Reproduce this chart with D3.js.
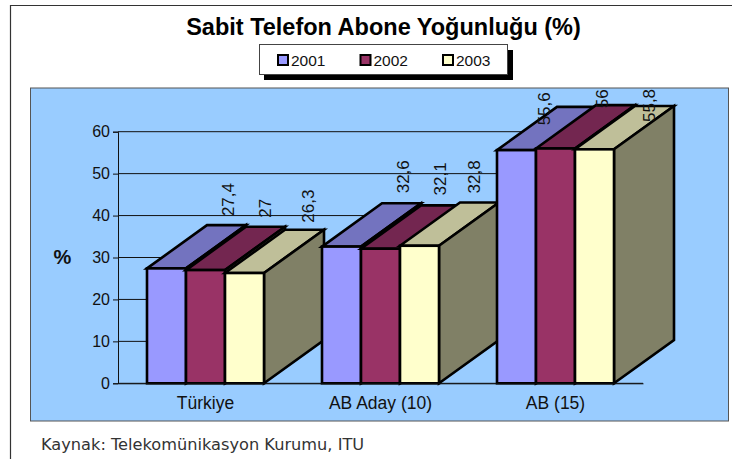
<!DOCTYPE html>
<html>
<head>
<meta charset="utf-8">
<script src="https://cdn.jsdelivr.net/npm/d3@7"></script>
<style>
    html, body { margin: 0; padding: 0; background: #fff; }
    svg { display: block; }
    text { font-family: "Liberation Sans", Arial, sans-serif; fill: #111; }
</style>
</head>
<body>
<div id="chart"></div>
<script>
// values
const categories = ["Türkiye", "AB Aday (10)", "AB (15)"];
const years = ["2001", "2002", "2003"];
const values2001 = [27.4, 32.6, 55.6];
const values2002 = [27, 32.1, 56];
const values2003 = [26.3, 32.8, 55.8];
const yTicks = [0, 10, 20, 30, 40, 50, 60];

// hand placed data labels in the original, offset from each bar (one row per year)
const labelNudgeX = [[61.5, 61.5, 27.5], [59.5, 59.5, 46.5], [63.5, 54.5, 54.5]];
const labelNudgeY = [[9, 10, -18.5], [9, 10, -3], [7, 9, -16]];

const colors = ["#9999FF", "#993366", "#FFFFCC"];
const topColors = ["#7373BF", "#732650", "#BFBF99"];
const sideColor = "#808066";

const width = 732, height = 459;
const depthX = 60, depthY = 43.3;

const svg = d3.select("#chart").append("svg")
    .attr("width", width)
    .attr("height", height);

// page frame
svg.append("path")
    .attr("d", "M10.5,459V5.5H732")
    .attr("fill", "none")
    .attr("stroke", "#333")
    .attr("stroke-width", 1.2);

svg.append("text")
    .attr("x", 383.5)
    .attr("y", 35)
    .attr("text-anchor", "middle")
    .style("font-size", "23.5px")
    .style("font-weight", "bold")
    .style("fill", "#000")
    .text("Sabit Telefon Abone Yoğunluğu (%)");

// legend
svg.append("rect").attr("x", 264).attr("y", 50).attr("width", 249).attr("height", 30).attr("fill", "#000");
svg.append("rect").attr("x", 259.5).attr("y", 44.5).attr("width", 248).attr("height", 30)
    .attr("fill", "#fff").attr("stroke", "#444").attr("stroke-width", 1);

const legendX = d3.scalePoint().domain(years).range([277, 442]);
const legendItem = svg.selectAll(".legend-item")
    .data(years)
    .enter().append("g")
    .attr("class", "legend-item")
    .attr("transform", d => `translate(${legendX(d)},54)`);
legendItem.append("rect")
    .attr("x", 1).attr("y", 1).attr("width", 10).attr("height", 10)
    .attr("fill", (d, i) => colors[i])
    .attr("stroke", "#000").attr("stroke-width", 2);
legendItem.append("text")
    .attr("x", 14).attr("y", 11.5)
    .style("font-size", "15.5px")
    .text(d => d);

// plot panel
svg.append("rect")
    .attr("x", 30.5).attr("y", 88).attr("width", 698).attr("height", 333)
    .attr("fill", "#99CCFF")
    .attr("stroke", "#555")
    .attr("stroke-width", 1);

const x0 = d3.scaleBand()
    .domain(categories)
    .range([118, 643])
    .paddingInner(0.3314)
    .paddingOuter(0.1657);

const x1 = d3.scaleBand()
    .domain(years)
    .range([0, x0.bandwidth()]);

const y = d3.scaleLinear()
    .domain([0, 60])
    .range([383.3, 131.7]);

// gridlines go under the bars
svg.append("g")
    .selectAll("line")
    .data(yTicks)
    .enter().append("line")
    .attr("x1", 118).attr("x2", 643)
    .attr("y1", d => y(d)).attr("y2", d => y(d))
    .attr("stroke", "#111")
    .attr("stroke-width", 1);

const yAxis = d3.axisLeft(y).tickValues(yTicks).tickSize(5).tickPadding(3);
const yAxisGroup = svg.append("g")
    .attr("transform", "translate(118,0)")
    .call(yAxis);
yAxisGroup.selectAll("text").style("font-size", "16px").style("font-family", "Liberation Sans");
yAxisGroup.selectAll("line,path").attr("stroke", "#111");

svg.append("text")
    .attr("x", 62.5).attr("y", 264)
    .attr("text-anchor", "middle")
    .style("font-size", "20px")
    .style("font-weight", "bold")
    .text("%");

const series = [values2001, values2002, values2003];

// bars, painted left to right so each one covers the side of the previous
categories.forEach(function(cat, c) {
    years.forEach(function(year, s) {
        let left = x0(cat) + x1(year);
        let right = left + x1.bandwidth();
        let top = y(series[s][c]);
        let base = y(0);

        let g = svg.append("g")
            .attr("class", "bar")
            .attr("stroke", "#000")
            .attr("stroke-width", 2.6)
            .attr("stroke-linejoin", "miter");

        g.append("polygon")
            .attr("points", [[left, top], [left + depthX, top - depthY], [right + depthX, top - depthY], [right, top]].join(" "))
            .attr("fill", topColors[s]);
        g.append("polygon")
            .attr("points", [[right, top], [right + depthX, top - depthY], [right + depthX, base - depthY], [right, base]].join(" "))
            .attr("fill", sideColor);
        g.append("rect")
            .attr("x", left).attr("y", top)
            .attr("width", x1.bandwidth()).attr("height", base - top)
            .attr("fill", colors[s]);
    });
});

// x axis, just the category names
const xAxis = d3.axisBottom(x0).tickSize(0).tickPadding(13);
const xAxisGroup = svg.append("g")
    .attr("transform", `translate(0,${y(0)})`)
    .call(xAxis);
xAxisGroup.selectAll("text").style("font-size", "17.5px").style("font-family", "Liberation Sans");
xAxisGroup.select(".domain").attr("stroke", "#111");

// data labels
categories.forEach(function(cat, c) {
    years.forEach(function(year, s) {
        let lx = x0(cat) + x1(year) + x1.bandwidth() / 2 + labelNudgeX[s][c] + 6;
        let ly = y(series[s][c]) - depthY - labelNudgeY[s][c];
        svg.append("text")
            .attr("class", "label")
            .attr("transform", `translate(${lx},${ly}) rotate(-90)`)
            .style("font-size", "17px")
            .text(String(series[s][c]).replace(".", ","));
    });
});

svg.append("text")
    .attr("x", 41).attr("y", 450)
    .style("font-family", "DejaVu Sans")
    .style("font-size", "16.2px")
    .style("fill", "#333")
    .text("Kaynak: Telekomünikasyon Kurumu, ITU");
</script>
</body>
</html>
